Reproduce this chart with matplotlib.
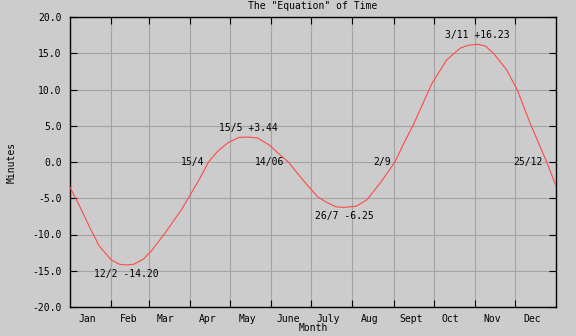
import matplotlib
matplotlib.use("Agg")
import matplotlib.pyplot as plt
import numpy as np

# Data (day of year, minutes)
days = [0, 7, 15, 22, 31, 37, 42, 48, 55, 61, 71, 84, 92, 98, 104, 111, 119, 127,
        134, 141, 150, 157, 164, 175, 186, 193, 200, 206, 215, 223, 233, 244, 250,
        258, 272, 283, 293, 299, 306, 312, 318, 328, 336, 345, 358, 365]
minutes = [-3.5, -6.0, -9.1, -11.6, -13.5, -14.1, -14.2, -14.1, -13.4, -12.3, -9.9,
           -6.5, -4.0, -2.1, 0.0, 1.5, 2.7, 3.4, 3.44, 3.3, 2.3, 1.1, 0.0, -2.5,
           -4.8, -5.6, -6.2, -6.25, -6.1, -5.2, -2.9, 0.0, 2.3, 5.2, 10.9, 14.1,
           15.7, 16.1, 16.23, 16.0, 15.0, 12.7, 9.9, 5.6, 0.0, -3.3]

month_starts = [0, 31, 59, 90, 120, 151, 181, 212, 243, 273, 304, 334]
month_names = ["Jan", "Feb", "Mar", "Apr", "May", "June", "July", "Aug",
               "Sept", "Oct", "Nov", "Dec"]
y_ticks = [-20, -15, -10, -5, 0, 5, 10, 15, 20]

# extrema labels (day, value, text, above?)
ext_days = [42, 134, 206, 306]
ext_vals = [-14.20, 3.44, -6.25, 16.23]
ext_texts = ["12/2 -14.20", "15/5 +3.44", "26/7 -6.25", "3/11 +16.23"]
ext_above = [False, True, False, True]
# zero crossing labels
zero_days = [104, 164, 244, 358]
zero_texts = ["15/4", "14/06", "2/9", "25/12"]

BG = "#cccccc"
GRID = "#a4a4a4"
RED = "#ff4a4a"
FONT = "DejaVu Sans Mono"
FS = 7

fig = plt.figure(figsize=(5.76, 3.36), dpi=100, facecolor=BG)
ax = fig.add_axes([70/576, 29/336, 486/576, 290/336], facecolor=BG)

ax.plot(days, minutes, color=RED, lw=0.8, zorder=3)

ax.set_xlim(0, 365)
ax.set_ylim(-20, 20)

ax.set_xticks(month_starts[1:])
ax.set_xticklabels([])
ax.set_xticks([m + 13 for m in month_starts], minor=True)
ax.set_xticklabels(month_names, minor=True, fontfamily=FONT, fontsize=FS)
ax.tick_params(axis="x", which="minor", length=0, pad=5)
ax.tick_params(axis="x", which="major", direction="in", length=5, width=0.8,
               top=True, bottom=True)

ax.set_yticks(y_ticks)
ax.set_yticklabels([f"{v:.1f}" for v in y_ticks], fontfamily=FONT, fontsize=FS)
ax.tick_params(axis="y", direction="in", length=5, width=0.8, left=True,
               right=True, pad=6)

ax.grid(True, which="major", color=GRID, lw=0.8, zorder=1)
ax.set_axisbelow(True)
for s in ax.spines.values():
    s.set_linewidth(1.0)
    s.set_color("black")

for d, v, t, a in zip(ext_days, ext_vals, ext_texts, ext_above):
    ax.annotate(t, (d, v), xytext=(0, 3 if a else -3), textcoords="offset points",
                ha="center", va="bottom" if a else "top",
                fontfamily=FONT, fontsize=FS, zorder=4)
for d, t in zip(zero_days, zero_texts):
    ax.annotate(t, (d, 0), xytext=(-3, 0), textcoords="offset points",
                ha="right", va="center", fontfamily=FONT, fontsize=FS, zorder=4)

fig.text(313/576, 1 - 6/336, 'The "Equation" of Time', ha="center", va="center",
         fontfamily=FONT, fontsize=FS)
fig.text(313/576, 1 - 328/336, "Month", ha="center", va="center",
         fontfamily=FONT, fontsize=FS)
fig.text(12/576, 1 - 162/336, "Minutes", ha="center", va="center", rotation=90,
         fontfamily=FONT, fontsize=FS)

fig.savefig("out.png", dpi=100, facecolor=BG)
